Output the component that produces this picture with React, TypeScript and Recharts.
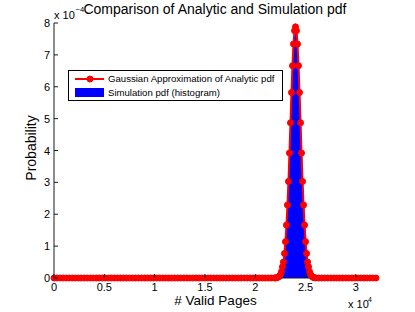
import { Area, ComposedChart, Legend, Line, XAxis, YAxis } from "recharts";

const FONT = '"Liberation Sans", Arial, Helvetica, sans-serif';
const AXIS_COLOR = "#1a1a1a";

// # valid pages where the analytic pdf sits on zero
const flatLeftPages = [
  0, 300, 600, 900, 1200, 1500, 1800, 2100, 2400, 2700, 3000, 3300, 3600, 3900,
  4200, 4500, 4800, 5100, 5400, 5700, 6000, 6300, 6600, 6900, 7200, 7500, 7800,
  8100, 8400, 8700, 9000, 9300, 9600, 9900, 10200, 10500, 10800, 11100, 11400,
  11700, 12000, 12300, 12600, 12900, 13200, 13500, 13800, 14100, 14400, 14700,
  15000, 15300, 15600, 15900, 16200, 16500, 16800, 17100, 17400, 17700, 18000,
  18300, 18600, 18900, 19200, 19500, 19800, 20100, 20400, 20700, 21000, 21300,
  21600, 21900,
];
const flatRightPages = [
  26300, 26600, 26900, 27200, 27500, 27800, 28100, 28400, 28700, 29000, 29300,
  29600, 29900, 30200, 30500, 30800, 31100, 31400, 31700, 32000,
];

// peak of the Gaussian approximation (pdf in units of 1e-4)
const peakPages = [
  22000, 22100, 22200, 22300, 22400, 22500, 22600, 22700, 22800, 22900, 23000,
  23100, 23200, 23300, 23400, 23500, 23600, 23700, 23800, 23900, 24000, 24100,
  24200, 24300, 24400, 24500, 24600, 24700, 24800, 24900, 25000, 25100, 25200,
  25300, 25400, 25500, 25600, 25700, 25800, 25900, 26000,
];
const analyticPdf = [
  0.003, 0.007, 0.015, 0.03, 0.06, 0.11, 0.2, 0.35, 0.5, 0.77, 1.14, 1.66, 2.29,
  3.03, 3.92, 4.87, 5.82, 6.66, 7.34, 7.76, 7.88, 7.76, 7.34, 6.66, 5.82, 4.87,
  3.92, 3.03, 2.29, 1.66, 1.14, 0.77, 0.5, 0.35, 0.2, 0.11, 0.06, 0.03, 0.015,
  0.007, 0.003,
];

// simulation histogram (pdf in units of 1e-4)
const histPages = [
  22400, 22500, 22600, 22700, 22800, 22900, 23000, 23100, 23200, 23300, 23400,
  23500, 23600, 23700, 23800, 23900, 24000, 24100, 24200, 24300, 24400, 24500,
  24600, 24700, 24800, 24900, 25000, 25100, 25200, 25300, 25400, 25500, 25600,
];
const simulationPdf = [
  0, 0.07, 0.14, 0.25, 0.42, 0.68, 1.05, 1.54, 2.18, 2.95, 3.82, 4.76, 5.7,
  6.58, 7.27, 7.75, 7.92, 7.78, 7.3, 6.63, 5.78, 4.82, 3.9, 3.02, 2.27, 1.63,
  1.12, 0.74, 0.46, 0.27, 0.15, 0.08, 0,
];

const pageTicks = [0, 5000, 10000, 15000, 20000, 25000, 30000];
const pdfTicks = [0, 1, 2, 3, 4, 5, 6, 7, 8];

const analyticData = [
  ...flatLeftPages.map((pages) => ({ pages, pdf: 0 })),
  ...peakPages.map((pages, i) => ({ pages, pdf: analyticPdf[i] })),
  ...flatRightPages.map((pages) => ({ pages, pdf: 0 })),
];
const simulationData = histPages.map((pages, i) => ({
  pages,
  pdf: simulationPdf[i],
}));

const BottomTick = ({ x, y, payload }: any) => (
  <g>
    <line x1={x} y1={y} x2={x} y2={y - 4} stroke={AXIS_COLOR} />
    <text
      x={x}
      y={y + 13}
      textAnchor="middle"
      fontSize={11}
      fontFamily={FONT}
      fill="#000"
    >
      {payload.value / 10000}
    </text>
  </g>
);

const TopTick = ({ x, y }: any) => (
  <line x1={x} y1={y} x2={x} y2={y + 4} stroke={AXIS_COLOR} />
);

const LeftTick = ({ x, y, payload }: any) => (
  <g>
    <line x1={x} y1={y} x2={x + 4} y2={y} stroke={AXIS_COLOR} />
    <text
      x={x - 4}
      y={y + 4}
      textAnchor="end"
      fontSize={11}
      fontFamily={FONT}
      fill="#000"
    >
      {payload.value}
    </text>
  </g>
);

const RightTick = ({ x, y }: any) => (
  <line x1={x} y1={y} x2={x - 4} y2={y} stroke={AXIS_COLOR} />
);

const LegendBox = () => (
  <svg width={215} height={31} style={{ display: "block" }}>
    <rect x={0.5} y={0.5} width={214} height={30} fill="#fff" stroke="#000" />
    <line x1={7} y1={9} x2={36} y2={9} stroke="#ff0000" strokeWidth={2} />
    <circle cx={22} cy={9} r={3} fill="#ff0000" stroke="#ff0000" />
    <text x={40} y={12.3} fontSize={9.6} fontFamily={FONT} fill="#000">
      Gaussian Approximation of Analytic pdf
    </text>
    <rect x={7} y={18} width={29} height={9} fill="#0000ff" />
    <text x={40} y={26} fontSize={9.6} fontFamily={FONT} fill="#000">
      Simulation pdf (histogram)
    </text>
  </svg>
);

export default function App() {
  return (
    <div
      style={{
        position: "absolute",
        left: 0,
        top: 0,
        width: 415,
        height: 312,
        background: "#fff",
      }}
    >
      <ComposedChart
        width={415}
        height={312}
        margin={{ top: 23, right: 39, bottom: 4, left: 14 }}
      >
        <XAxis
          dataKey="pages"
          type="number"
          domain={[0, 32000]}
          ticks={pageTicks}
          interval={0}
          height={30}
          tickSize={0}
          tickMargin={0}
          tickLine={false}
          axisLine={{ stroke: AXIS_COLOR }}
          tick={<BottomTick />}
        />
        <XAxis
          xAxisId="top"
          orientation="top"
          dataKey="pages"
          type="number"
          domain={[0, 32000]}
          ticks={pageTicks}
          interval={0}
          height={0}
          tickSize={0}
          tickMargin={0}
          tickLine={false}
          axisLine={{ stroke: AXIS_COLOR }}
          tick={<TopTick />}
        />
        <YAxis
          type="number"
          domain={[0, 8]}
          ticks={pdfTicks}
          interval={0}
          width={40}
          tickSize={0}
          tickMargin={0}
          tickLine={false}
          axisLine={{ stroke: AXIS_COLOR }}
          tick={<LeftTick />}
        />
        <YAxis
          yAxisId="right"
          orientation="right"
          type="number"
          domain={[0, 8]}
          ticks={pdfTicks}
          interval={0}
          width={0}
          tickSize={0}
          tickMargin={0}
          tickLine={false}
          axisLine={{ stroke: AXIS_COLOR }}
          tick={<RightTick />}
        />
        <Area
          data={simulationData}
          dataKey="pdf"
          type="linear"
          fill="#0000ff"
          fillOpacity={1}
          stroke="#0000ff"
          strokeWidth={1}
          dot={false}
          activeDot={false}
          isAnimationActive={false}
        />
        <Line
          data={analyticData}
          dataKey="pdf"
          type="linear"
          stroke="#ff0000"
          strokeWidth={2}
          dot={{ r: 3, fill: "#ff0000", stroke: "#ff0000", strokeWidth: 1 }}
          activeDot={false}
          isAnimationActive={false}
        />
        <Legend
          layout="vertical"
          align="center"
          verticalAlign="middle"
          content={<LegendBox />}
          wrapperStyle={{ position: "absolute", left: 68, top: 70, width: 215, height: 31 }}
        />
      </ComposedChart>
      <svg
        width={415}
        height={312}
        style={{ position: "absolute", left: 0, top: 0, pointerEvents: "none" }}
      >
        <text x={215} y={14} textAnchor="middle" fontSize={14} fontFamily={FONT} fill="#000">
          Comparison of Analytic and Simulation pdf
        </text>
        <text x={54} y={18.5} fontSize={11} fontFamily={FONT} fill="#000">
          x 10
        </text>
        <text x={75.5} y={11.5} fontSize={7.5} fontFamily={FONT} fill="#000">
          −4
        </text>
        <text
          x={36}
          y={148}
          transform="rotate(-90 36 148)"
          textAnchor="middle"
          fontSize={14}
          fontFamily={FONT}
          fill="#000"
        >
          Probability
        </text>
        <text x={215.5} y={305} textAnchor="middle" fontSize={13.5} fontFamily={FONT} fill="#000">
          # Valid Pages
        </text>
        <text x={348} y={308} fontSize={11} fontFamily={FONT} fill="#000">
          x 10
        </text>
        <text x={368} y={302} fontSize={7} fontFamily={FONT} fill="#000">
          4
        </text>
      </svg>
    </div>
  );
}
